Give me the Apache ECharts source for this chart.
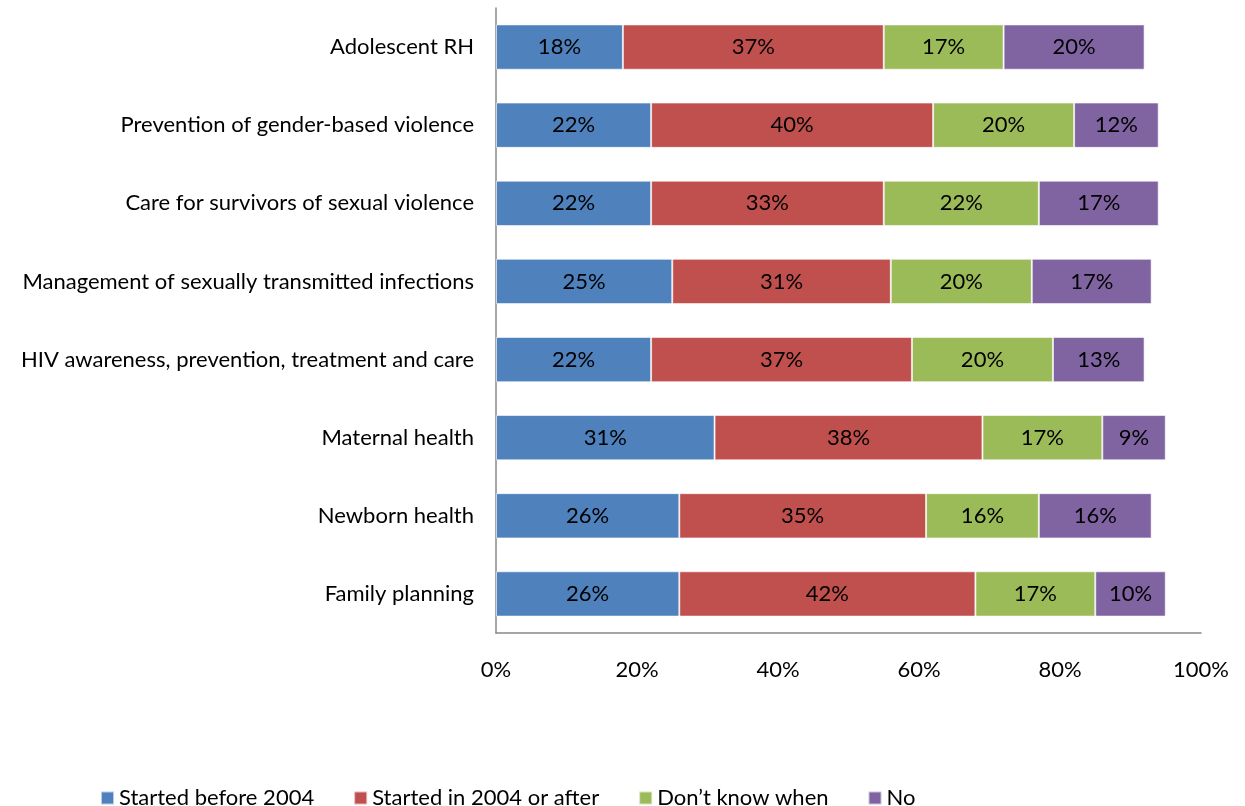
<!DOCTYPE html>
<html>
  <head>
    <meta charset="utf-8" />
    <title>RH services</title>
    <script src="https://cdn.jsdelivr.net/npm/echarts@6/dist/echarts.min.js"></script>
  </head>
  <body style="margin:0;background:#fff;">
    <div id="main" style="width:1245px;height:806px;"></div>
    <script type="text/javascript">
      // categories, top to bottom
      const categories = [
        "Adolescent RH",
        "Prevention of gender-based violence",
        "Care for survivors of sexual violence",
        "Management of sexually transmitted infections",
        "HIV awareness, prevention, treatment and care",
        "Maternal health",
        "Newborn health",
        "Family planning",
      ];
      const beforeVals = [18, 22, 22, 25, 22, 31, 26, 26];
      const afterVals = [37, 40, 33, 31, 37, 38, 35, 42];
      const dontKnowVals = [17, 20, 22, 20, 20, 17, 16, 17];
      const noVals = [20, 12, 17, 17, 13, 9, 16, 10];
      const xTicks = ["0%", "20%", "40%", "60%", "80%", "100%"];

      const FONT = "Lato, 'Liberation Sans', sans-serif";
      const FS = 22;
      const seriesDefs = [
        ["Started before 2004", beforeVals, "#4F81BD"],
        ["Started in 2004 or after", afterVals, "#C0504D"],
        ["Don\u2019t know when", dontKnowVals, "#9BBB59"],
        ["No", noVals, "#8064A2"],
      ];

      const myChart = echarts.init(document.getElementById("main"));
      const option = {
        animation: false,
        grid: { left: 496, right: 44, top: 8, bottom: 173 },
        legend: {
          left: 95,
          top: 782,
          itemWidth: 13,
          itemHeight: 13,
          itemGap: 39,
          icon: "rect",
          textStyle: { fontFamily: FONT, fontSize: FS, color: "#000" },
          data: seriesDefs.map(s => s[0]),
        },
        xAxis: {
          type: "value",
          min: 0,
          max: 100,
          interval: 20,
          axisLine: { show: true, lineStyle: { color: "#888", width: 1.5 } },
          axisTick: { show: false },
          splitLine: { show: false },
          axisLabel: {
            fontFamily: FONT,
            fontSize: FS,
            color: "#000",
            margin: 26,
            formatter: v => xTicks[v / 20],
          },
        },
        yAxis: {
          type: "category",
          inverse: true,
          data: categories,
          axisLine: { show: true, lineStyle: { color: "#888", width: 1.5 } },
          axisTick: { show: false },
          axisLabel: { fontFamily: FONT, fontSize: FS, color: "#000", margin: 22 },
        },
        series: seriesDefs.map(([name, vals, color]) => ({
          name: name,
          type: "bar",
          stack: "total",
          barWidth: "58%",
          data: vals,
          itemStyle: { color: color, borderColor: "rgba(255,255,255,0.6)", borderWidth: 1 },
          label: {
            show: true,
            position: "inside",
            formatter: "{c}%",
            fontFamily: FONT,
            fontSize: FS,
            color: "#000",
          },
        })),
      };
      myChart.setOption(option);
    </script>
  </body>
</html>
